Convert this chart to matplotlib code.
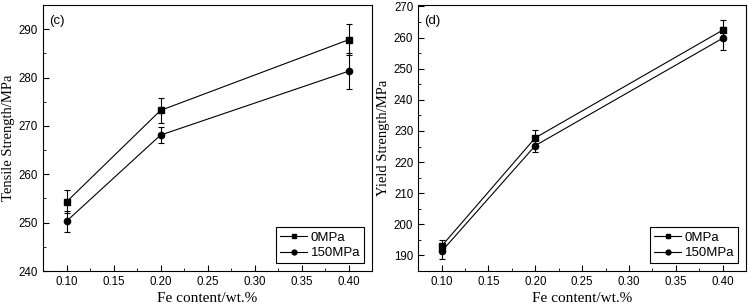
import matplotlib
matplotlib.use("Agg")
import matplotlib.pyplot as plt
from matplotlib.lines import Line2D
from matplotlib.ticker import MultipleLocator

# Data
fe = [0.10, 0.20, 0.40]
series = ["0MPa", "150MPa"]

uts_0 = [254.3, 273.2, 287.8]
uts_0_err = [2.4, 2.6, 3.2]
uts_150 = [250.3, 268.1, 281.3]
uts_150_err = [2.2, 1.6, 3.7]

ys_0 = [193.0, 227.8, 262.4]
ys_0_err = [2.0, 2.6, 3.3]
ys_150 = [191.3, 225.3, 259.8]
ys_150_err = [2.3, 2.0, 3.7]

plt.rcParams["font.family"] = ["Liberation Sans", "DejaVu Sans"]

fig = plt.figure(figsize=(7.48, 3.08), dpi=100)
ax1 = fig.add_axes([0.0575, 0.120, 0.440, 0.864])
ax2 = fig.add_axes([0.559, 0.120, 0.4385, 0.864])


def panel(ax, a, a_err, b, b_err, ylim, ylabel, tag):
    kw = dict(color="black", lw=0.8, ms=4.5, capsize=2.5, elinewidth=0.8, capthick=0.8)
    ax.errorbar(fe, a, yerr=a_err, marker="s", **kw)
    ax.errorbar(fe, b, yerr=b_err, marker="o", **kw)
    ax.set_xlim(0.075, 0.425)
    ax.set_ylim(*ylim)
    ax.xaxis.set_major_locator(MultipleLocator(0.05))
    ax.xaxis.set_minor_locator(MultipleLocator(0.025))
    ax.yaxis.set_major_locator(MultipleLocator(10))
    ax.yaxis.set_minor_locator(MultipleLocator(5))
    ax.xaxis.set_major_formatter(plt.FormatStrFormatter("%.2f"))
    ax.tick_params(which="both", direction="in", top=False, right=False, labelsize=8.3)
    ax.tick_params(which="major", length=4)
    ax.tick_params(which="minor", length=2)
    for s in ax.spines.values():
        s.set_linewidth(0.8)
    ax.set_xlabel("Fe content/wt.%", family="Liberation Serif", fontsize=11, labelpad=3)
    ax.set_ylabel(ylabel, family="Liberation Serif", fontsize=10.5, labelpad=3)
    ax.text(0.018, 0.94, tag, transform=ax.transAxes, fontsize=9.5, va="center")
    handles = [Line2D([], [], color="black", lw=0.8, marker="s", ms=3.5),
               Line2D([], [], color="black", lw=0.8, marker="o", ms=3.5)]
    leg = ax.legend(handles, series, loc="lower right", fontsize=9.5, frameon=True,
                    fancybox=False, edgecolor="black", framealpha=1, handlelength=2.0,
                    handletextpad=0.3, borderpad=0.3, labelspacing=0.25,
                    borderaxespad=0.6)
    leg.get_frame().set_linewidth(0.8)


panel(ax1, uts_0, uts_0_err, uts_150, uts_150_err, (240, 295), "Tensile Strength/MPa", "(c)")
panel(ax2, ys_0, ys_0_err, ys_150, ys_150_err, (185, 270.5), "Yield Strength/MPa", "(d)")

fig.savefig("out.png", dpi=100)
